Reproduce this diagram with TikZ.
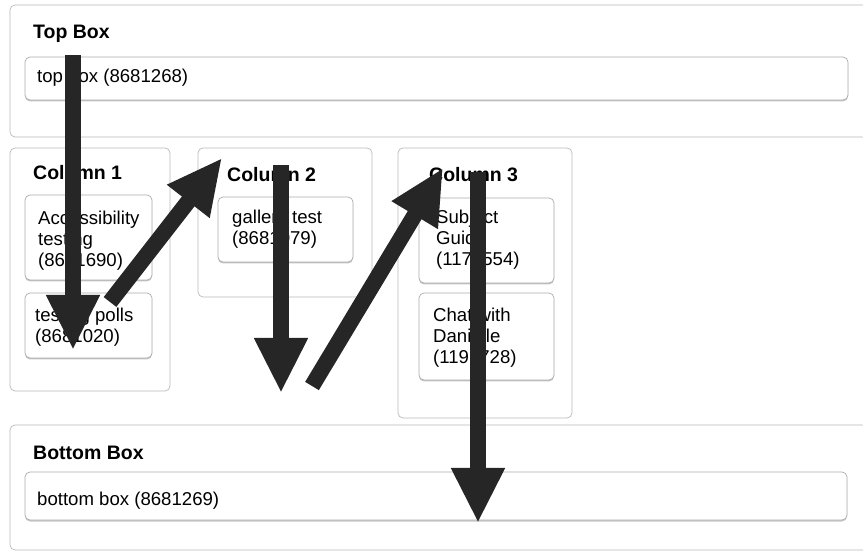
\documentclass[tikz,border=0pt]{standalone}
\usepackage{fontspec}
\setmainfont{Liberation Sans}
\usetikzlibrary{arrows.meta,shadows}
\begin{document}
\begin{tikzpicture}[x=1pt,y=-1pt,
  obox/.style={draw=gray!55,line width=0.7pt,rounded corners=5pt,inner sep=0pt,outer sep=0pt,anchor=north west},
  ibox/.style={draw=gray!65,line width=0.7pt,rounded corners=5pt,inner sep=0pt,outer sep=0pt,anchor=north west,fill=white,
     drop shadow={shadow xshift=0pt,shadow yshift=-1.5pt,fill=gray!45,opacity=1}},
  hdr/.style={anchor=base west,inner sep=0pt,font=\fontsize{19.5}{23}\selectfont\bfseries},
  txt/.style={anchor=base west,inner sep=0pt,font=\fontsize{18.6}{21}\selectfont},
  bigarrow/.style={line width=16pt,draw=black!85,-{Triangle[width=50pt,length=55pt]}}]
\useasboundingbox (0,0) rectangle (863,553);
% outer containers
\node[obox,minimum width=865pt,minimum height=132pt] (topouter) at (10,5) {};
\node[obox,minimum width=160pt,minimum height=243pt] (col1) at (10,148) {};
\node[obox,minimum width=174pt,minimum height=149pt] (col2) at (198,148) {};
\node[obox,minimum width=174pt,minimum height=270pt] (col3) at (398,148) {};
\node[obox,minimum width=865pt,minimum height=125pt] (botouter) at (10,425) {};
% inner boxes
\node[ibox,minimum width=823pt,minimum height=43pt] (topinner) at (25,57) {};
\node[ibox,minimum width=127pt,minimum height=85pt] (acc) at (25,195) {};
\node[ibox,minimum width=127pt,minimum height=65pt] (polls) at (25,293) {};
\node[ibox,minimum width=135pt,minimum height=65pt] (gal) at (218,197) {};
\node[ibox,minimum width=135pt,minimum height=85pt] (subj) at (419,198) {};
\node[ibox,minimum width=135pt,minimum height=87pt] (chat) at (419,293) {};
\node[ibox,minimum width=822pt,minimum height=48pt] (botinner) at (25,472) {};
% texts
\node[hdr] (tophdr) at (33,39) {Top Box};
\node[txt] (toptxt) at (37,83) {top box (8681268)};
\node[hdr] (c1hdr) at (33,180) {Column 1};
\node[hdr] (c2hdr) at (227,182) {Column 2};
\node[hdr] (c3hdr) at (429,182) {Column 3};
\node[txt] (acc1) at (38,225) {Accessibility};
\node[txt] (acc2) at (38,246) {testing};
\node[txt] (acc3) at (38,267) {(8681690)};
\node[txt] (pol1) at (35,322) {testing polls};
\node[txt] (pol2) at (35,343) {(8681020)};
\node[txt] (gal1) at (232,224) {gallery test};
\node[txt] (gal2) at (232,245) {(8681079)};
\node[txt] (sub1) at (436,224) {Subject};
\node[txt] (sub2) at (436,245) {Guide};
\node[txt] (sub3) at (436,266) {(1172554)};
\node[txt] (cha1) at (433,322) {Chat with};
\node[txt] (cha2) at (433,343) {Danielle};
\node[txt] (cha3) at (433,364) {(1191728)};
\node[hdr] (bothdr) at (33,460) {Bottom Box};
\node[txt] (bottxt) at (37,505) {bottom box (8681269)};
% arrow end points
\coordinate (a1s) at (73,55);
\coordinate (a1e) at (73,350);
\coordinate (a2s) at (110,302);
\coordinate (a2e) at (222,158);
\coordinate (a3s) at (281,165);
\coordinate (a3e) at (281,393);
\coordinate (a4s) at (312,386);
\coordinate (a4e) at (443,168);
\coordinate (a5s) at (478,172);
\coordinate (a5e) at (478,523);
\draw[bigarrow] (a1s) -- (a1e);
\draw[bigarrow] (a2s) -- (a2e);
\draw[bigarrow] (a3s) -- (a3e);
\draw[bigarrow] (a4s) -- (a4e);
\draw[bigarrow] (a5s) -- (a5e);
\end{tikzpicture}
\end{document}
